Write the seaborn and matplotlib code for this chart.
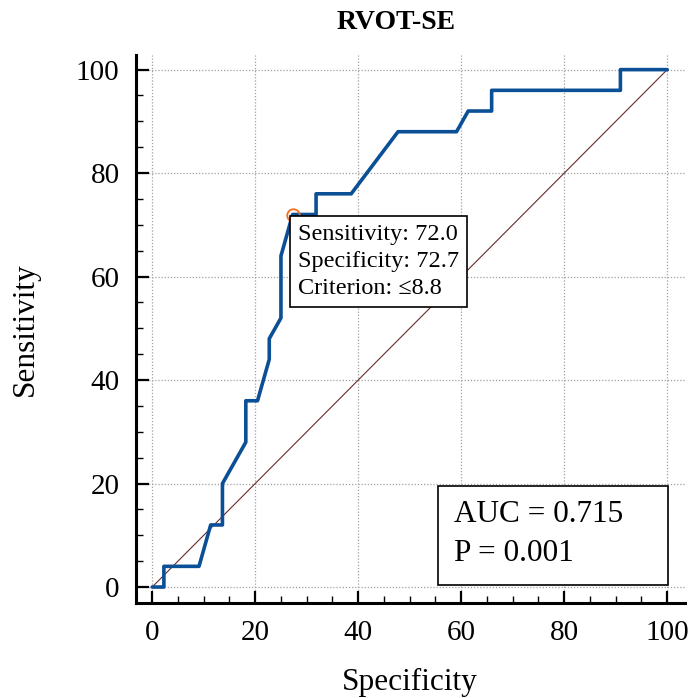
import numpy as np
import pandas as pd
import matplotlib
matplotlib.use('Agg')
import matplotlib.pyplot as plt
from matplotlib.patches import Rectangle
from matplotlib.ticker import MultipleLocator
import seaborn as sns

# ─── 데이터 ────────────────────────────────────────────────────────────────
# x: 100 - Specificity, y: Sensitivity (ROC 곡선 꼭짓점)
fpr = [0, 2.27, 2.27, 9.09, 11.36, 13.64, 13.64, 18.18, 18.18, 20.45, 22.73,
       22.73, 25.0, 25.0, 27.27, 31.82, 31.82, 38.64, 47.73, 59.09, 61.36,
       65.91, 65.91, 90.91, 90.91, 100]
tpr = [0, 0, 4, 4, 12, 12, 20, 28, 36, 36, 44,
       48, 52, 64, 72, 72, 76, 76, 88, 88, 92,
       92, 96, 96, 100, 100]
ref_line = [0, 100]
best_point = (27.27, 72.0)
box_lines = ['Sensitivity: 72.0', 'Specificity: 72.7', 'Criterion: \u22648.8']
auc_lines = ['AUC = 0.715', 'P = 0.001']
ticks = [0, 20, 40, 60, 80, 100]

sns.set_theme(style='white')
plt.rcParams['font.family'] = ['Liberation Serif', 'DejaVu Serif']
plt.rcParams['text.color'] = 'black'
plt.rcParams['axes.labelcolor'] = 'black'
plt.rcParams['xtick.labelcolor'] = 'black'
plt.rcParams['ytick.labelcolor'] = 'black'

df = pd.DataFrame({'fpr': fpr, 'tpr': tpr})

fig = plt.figure(figsize=(6.88, 6.98), dpi=100)
ax = fig.add_axes([0.198, 0.136, 0.798, 0.785])

# 격자
for t in ticks:
    ax.axvline(t, color='#a0a0a0', lw=0.9, ls=(0, (1, 1.5)), zorder=0)
    ax.axhline(t, color='#a0a0a0', lw=0.9, ls=(0, (1, 1.5)), zorder=0)

# 대각선
sns.lineplot(x=ref_line, y=ref_line, ax=ax, color='#6b2a2a', lw=0.8, zorder=2)

# ROC 곡선
sns.lineplot(data=df, x='fpr', y='tpr', sort=False, estimator=None, ax=ax,
             color='#0b4f96', lw=2.6, zorder=3)

ax.plot(*best_point, marker='o', ms=9, mfc='none', mec='#f07020', mew=1.3, zorder=4)

ax.annotate('\n'.join(box_lines), xy=best_point, xytext=(4, -7), textcoords='offset points',
            ha='left', va='top', fontsize=17.5, linespacing=1.36,
            bbox=dict(boxstyle='square,pad=0.33', fc='white', ec='black', lw=1.2), zorder=5)

# AUC 박스
ax.add_patch(Rectangle((0.549, 0.033), 0.42, 0.18, transform=ax.transAxes,
                       fc='white', ec='black', lw=1.2, zorder=5))
ax.text(0.578, 0.162, auc_lines[0], transform=ax.transAxes, fontsize=22.5, va='center', zorder=6)
ax.text(0.578, 0.091, auc_lines[1], transform=ax.transAxes, fontsize=22.5, va='center', zorder=6)

ax.set_xlim(-3.1, 103.5)
ax.set_ylim(-3.1, 102.8)
ax.set_xticks(ticks)
ax.set_yticks(ticks)
ax.xaxis.set_minor_locator(MultipleLocator(5))
ax.yaxis.set_minor_locator(MultipleLocator(5))
ax.tick_params(axis='both', which='major', direction='in', length=9, width=1.6,
               color='black', labelsize=21, pad=12, bottom=True, left=True)
ax.tick_params(axis='both', which='minor', direction='in', length=5, width=1.0,
               color='black', bottom=True, left=True)

for s in ['top', 'right']:
    ax.spines[s].set_visible(False)
for s in ['left', 'bottom']:
    ax.spines[s].set_linewidth(2.2)
    ax.spines[s].set_color('black')

ax.set_xlabel('Specificity', fontsize=22.5)
ax.set_ylabel('Sensitivity', fontsize=22.5)
ax.xaxis.set_label_coords(0.498, -0.118)
ax.yaxis.set_label_coords(-0.175, 0.5)
fig.text(0.576, 0.968, 'RVOT-SE', ha='center', va='center', fontsize=20, fontweight='bold')

plt.savefig('out.png', dpi=100, facecolor='white')
plt.close()
